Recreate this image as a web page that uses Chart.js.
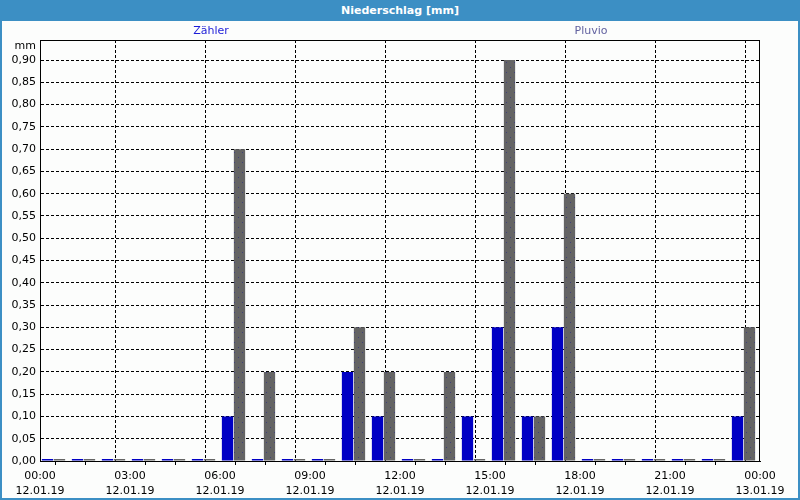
<!DOCTYPE html>
<html>
<head>
<meta charset="utf-8">
<script src="https://cdn.jsdelivr.net/npm/chart.js@4/dist/chart.umd.min.js"></script>
<style>
  html, body { margin: 0; padding: 0; }
  #frame {
    position: relative;
    width: 800px;
    height: 500px;
    box-sizing: border-box;
    background: #fcfdfc;
    border: 2px solid #3c8fc4;
    border-top: none;
  }
  #title {
    position: absolute;
    left: -2px;
    top: 0;
    width: 800px;
    height: 21px;
    background: #3c8fc4;
    color: #ffffff;
    font: bold 11px "DejaVu Sans", sans-serif;
    line-height: 21px;
    text-align: center;
  }
  #chart {
    position: absolute;
    left: -2px;
    top: 0;
  }
</style>
</head>
<body>
<div id="frame">
  <div id="title">Niederschlag [mm]</div>
  <canvas id="chart" width="800" height="500"></canvas>
</div>
<script>
// Hourly slots of 12.01.19 (hour of day the bar starts)
const hours = [0, 1, 2, 3, 4, 5, 6, 7, 8, 9, 10, 11, 12, 13, 14, 15, 16, 17, 18, 19, 20, 21, 22, 23];

// Precipitation per hour [mm]
const zaehlerValues = [0, 0, 0, 0, 0, 0, 0.10, 0, 0, 0, 0.20, 0.10, 0, 0, 0.10, 0.30, 0.10, 0.30, 0, 0, 0, 0, 0, 0.10];
const pluvioValues  = [0, 0, 0, 0, 0, 0, 0.70, 0.20, 0, 0, 0.30, 0.20, 0, 0.20, 0, 0.90, 0.10, 0.60, 0, 0, 0, 0, 0, 0.30];

// x axis labels every 3 hours
const tickHours = [0, 3, 6, 9, 12, 15, 18, 21, 24];
const tickTimes = ['00:00', '03:00', '06:00', '09:00', '12:00', '15:00', '18:00', '21:00', '00:00'];
const tickDates = ['12.01.19', '12.01.19', '12.01.19', '12.01.19', '12.01.19', '12.01.19', '12.01.19', '12.01.19', '13.01.19'];

const seriesNames = ['Zähler', 'Pluvio'];

// gray bars have a sparse dotted texture
function makeDotPattern() {
    const c = document.createElement('canvas');
    c.width = 8;
    c.height = 10;
    const g = c.getContext('2d');
    g.fillStyle = '#646464';
    g.fillRect(0, 0, 8, 10);
    g.fillStyle = '#40407a';
    g.fillRect(2, 2, 1, 1);
    g.fillRect(6, 7, 1, 1);
    return g.createPattern(c, 'repeat');
}

const font = { family: "'DejaVu Sans', sans-serif", size: 11 };

// frame of the plot, series names and unit label
const decorPlugin = {
    id: 'decor',
    afterDraw(chart) {
        const { ctx, chartArea } = chart;
        ctx.save();
        ctx.strokeStyle = '#000000';
        ctx.lineWidth = 1;
        ctx.strokeRect(chartArea.left + 0.5, chartArea.top + 0.5,
            chartArea.right - chartArea.left - 1, chartArea.bottom - chartArea.top);
        ctx.font = "11px 'DejaVu Sans', sans-serif";
        ctx.textBaseline = 'middle';
        ctx.textAlign = 'right';
        ctx.fillStyle = '#000000';
        ctx.fillText('mm', chartArea.left - 4, 46);
        ctx.textAlign = 'center';
        ctx.fillStyle = '#1c1cd8';
        ctx.fillText(seriesNames[0], 211, 31);
        ctx.fillStyle = '#6262a0';
        ctx.fillText(seriesNames[1], 591, 31);
        ctx.restore();
    }
};

const ctx = document.getElementById('chart').getContext('2d');

new Chart(ctx, {
    type: 'bar',
    data: {
        datasets: [
            {
                label: seriesNames[0],
                data: hours.map((h, i) => ({ x: h + 0.45, y: zaehlerValues[i] })),
                backgroundColor: '#0000c4',
                borderWidth: 0,
                minBarLength: 2,
                categoryPercentage: 0.8,
                barPercentage: 0.94
            },
            {
                label: seriesNames[1],
                data: hours.map((h, i) => ({ x: h + 0.45, y: pluvioValues[i] })),
                backgroundColor: makeDotPattern(),
                borderWidth: 0,
                minBarLength: 2,
                categoryPercentage: 0.8,
                barPercentage: 0.94
            }
        ]
    },
    options: {
        responsive: false,
        animation: false,
        layout: {
            padding: { left: 0, top: 40, right: 40, bottom: 0 }
        },
        plugins: {
            legend: { display: false },
            title: { display: false },
            tooltip: { enabled: false }
        },
        scales: {
            x: {
                type: 'linear',
                min: 0,
                max: 24,
                offset: false,
                afterFit: s => { s.height = 39; },
                grid: {
                    color: c => (c.tick && c.tick.value % 3 === 0) ? '#000000' : 'rgba(0,0,0,0)',
                    tickColor: c => (c.tick && c.tick.value % 3 === 0) ? 'rgba(0,0,0,0)' : '#000000',
                    tickLength: 4,
                    drawOnChartArea: true
                },
                border: { display: true, color: '#000000', dash: [3, 2] },
                ticks: {
                    stepSize: 1,
                    autoSkip: false,
                    maxRotation: 0,
                    padding: 4,
                    color: '#000000',
                    font: { family: font.family, size: 11, lineHeight: 1.36 },
                    callback: v => {
                        const k = tickHours.indexOf(v);
                        return k < 0 ? '' : [tickTimes[k], tickDates[k]];
                    }
                }
            },
            y: {
                min: 0,
                max: 0.945,
                afterFit: s => { s.width = 40; },
                grid: {
                    color: '#000000',
                    drawTicks: false
                },
                border: { display: true, color: '#000000', dash: [3, 2] },
                ticks: {
                    stepSize: 0.05,
                    includeBounds: false,
                    padding: 4,
                    color: '#000000',
                    font: font,
                    callback: v => v.toFixed(2).replace('.', ',')
                }
            }
        }
    },
    plugins: [decorPlugin]
});
</script>
</body>
</html>
